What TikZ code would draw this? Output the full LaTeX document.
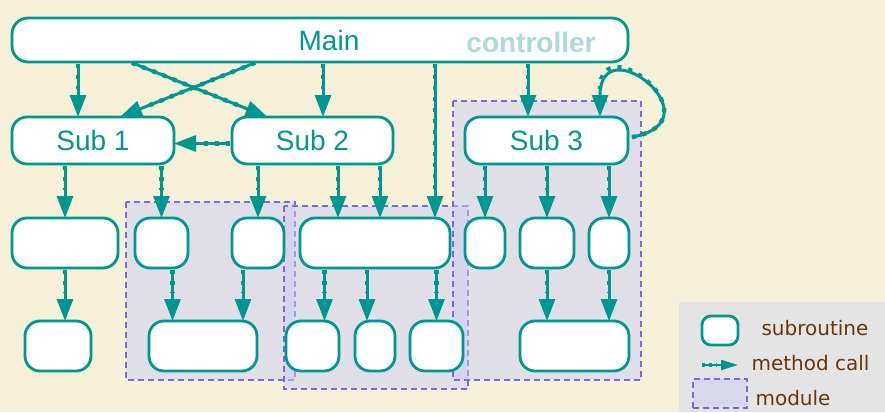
\documentclass[tikz,border=0pt]{standalone}
\usepackage{fontspec}
\setmainfont{Liberation Sans}
\newfontfamily\legendfont{DejaVu Sans}
\usetikzlibrary{arrows.meta,calc}
\definecolor{bgcream}{RGB}{245,240,215}
\definecolor{subteal}{RGB}{0,150,145}
\definecolor{ctrlteal}{RGB}{172,218,218}
\definecolor{modfill}{RGB}{205,205,245}
\definecolor{modline}{RGB}{118,108,210}
\definecolor{leggray}{RGB}{228,228,228}
\definecolor{legbrown}{RGB}{105,55,10}

\begin{document}
\begin{tikzpicture}[
  x=1pt, y=-1pt,
  every node/.style={font=\fontsize{28}{32}\selectfont, text=subteal},
  sub/.style={draw=subteal, fill=white, line width=2.8pt, rounded corners=15pt, inner sep=0pt, outer sep=0pt},
  call/.style={draw=subteal, line width=3pt, shorten <=2pt, -{Triangle[length=22pt,width=16pt]},
    postaction={draw=subteal, -, line width=4.4pt, dash pattern=on 4pt off 7pt, shorten >=28pt}},
  legcall/.style={draw=subteal, line width=2.2pt, -{Triangle[length=17pt,width=10pt]},
    postaction={draw=subteal, -, line width=3.4pt, dash pattern=on 3pt off 4pt, shorten >=21pt}},
  module/.style={draw=modline, line width=1.5pt, dash pattern=on 6pt off 4pt, fill=modfill, fill opacity=0.5},
  legend/.style={font=\legendfont\fontsize{20}{24}\selectfont, text=legbrown, anchor=west}
]
\useasboundingbox (0,0) rectangle (885,412);
\fill[bgcream] (0,0) rectangle (885,412);

% modules
\draw[module] (126,202) rectangle (295,380);
\draw[module] (284,206) rectangle (468,389);
\draw[module] (453,101) rectangle (641,380);

% top level
\node[sub, rounded corners=16pt, minimum width=616pt, minimum height=44pt] (main) at (320,40) {};
\node (mainlbl) at (329,40) {Main};
\node[font=\fontsize{28}{32}\selectfont\bfseries, text=ctrlteal] (ctrl) at (531,42) {controller};

\node[sub, minimum width=162pt, minimum height=47pt] (sub1) at (93,140.5) {Sub 1};
\node[sub, minimum width=161pt, minimum height=47pt] (sub2) at (312.5,140.5) {Sub 2};
\node[sub, minimum width=163pt, minimum height=47pt] (sub3) at (546.5,140.5) {Sub 3};

% second row of subroutines
\node[sub, minimum width=106pt, minimum height=50pt] (a) at (65,243) {};
\node[sub, minimum width=53pt, minimum height=50pt] (b) at (161.5,243) {};
\node[sub, minimum width=52pt, minimum height=50pt] (c) at (258,243) {};
\node[sub, minimum width=150pt, minimum height=50pt] (d) at (375,243) {};
\node[sub, minimum width=40pt, minimum height=50pt] (e) at (485,243) {};
\node[sub, minimum width=54pt, minimum height=50pt] (f) at (547,243) {};
\node[sub, minimum width=40pt, minimum height=50pt] (g) at (609,243) {};

% third row
\node[sub, minimum width=66pt, minimum height=50pt] (h) at (58,346) {};
\node[sub, minimum width=108pt, minimum height=50pt] (i) at (203,346) {};
\node[sub, minimum width=53pt, minimum height=50pt] (j) at (312.5,346) {};
\node[sub, minimum width=40pt, minimum height=50pt] (k) at (375,346) {};
\node[sub, minimum width=53pt, minimum height=50pt] (l) at (436.5,346) {};
\node[sub, minimum width=109pt, minimum height=50pt] (m) at (574.5,346) {};

% calls from main
\draw[call] ($(main.south -| sub1.north)+(-15,0)$) -- ($(sub1.north)+(-15,0)$);
\draw[call] ($(main.south)+(-190,0)$) -- ($(sub2.north)+(-45,0)$);
\draw[call] ($(main.south)+(-63,0)$) -- ($(sub1.north)+(27,0)$);
\draw[call] ($(main.south -| sub2.north)+(10.5,0)$) -- ($(sub2.north)+(10.5,0)$);
\draw[call] ($(main.south -| d.north)+(60,0)$) -- ($(d.north)+(60,0)$);
\draw[call] ($(main.south -| sub3.north)+(-18.5,0)$) -- ($(sub3.north)+(-18.5,0)$);
\draw[call] ($(sub3.east)+(2,-3)$) .. controls +(90,-17) and +(0,-92) .. ($(sub3.north)+(53.5,0)$);
\draw[call] ($(sub2.west)+(0,3)$) -- ($(sub1.east)+(0,3)$);

% calls from the subs
\draw[call] (a.north |- sub1.south) -- (a.north);
\draw[call] (b.north |- sub1.south) -- (b.north);
\draw[call] (c.north |- sub2.south) -- (c.north);
\draw[call] ($(d.north |- sub2.south)+(-37,0)$) -- ($(d.north)+(-37,0)$);
\draw[call] ($(d.north |- sub2.south)+(5,0)$) -- ($(d.north)+(5,0)$);
\draw[call] (e.north |- sub3.south) -- (e.north);
\draw[call] (f.north |- sub3.south) -- (f.north);
\draw[call] (g.north |- sub3.south) -- (g.north);

\draw[call] (a.south) -- (h.north -| a.south);
\draw[call] ($(b.south)+(11,0)$) -- ($(i.north -| b.south)+(11,0)$);
\draw[call] ($(c.south)+(-15,0)$) -- ($(i.north -| c.south)+(-15,0)$);
\draw[call] ($(j.north |- d.south)+(12,0)$) -- ($(j.north)+(12,0)$);
\draw[call] ($(k.north |- d.south)+(-8,0)$) -- ($(k.north)+(-8,0)$);
\draw[call] (l.north |- d.south) -- (l.north);
\draw[call] (f.south) -- (m.north -| f.south);
\draw[call] (g.south) -- (m.north -| g.south);

% legend
\fill[leggray] (679,302) rectangle (885,412);
\node[sub, rounded corners=9pt, minimum width=36pt, minimum height=29pt] (legsub) at (720,330.5) {};
\node[legend] (legsubtxt) at (758,328) {subroutine};
\coordinate (legtail) at (702,365);
\coordinate (leghead) at (738,365);
\draw[legcall] (legtail) -- (leghead);
\node[legend] (legcalltxt) at (748,363) {method call};
\node[module, minimum width=54pt, minimum height=29pt] (legmod) at (720,393.5) {};
\node[legend] (legmodtxt) at (752,398) {module};
\end{tikzpicture}
\end{document}
